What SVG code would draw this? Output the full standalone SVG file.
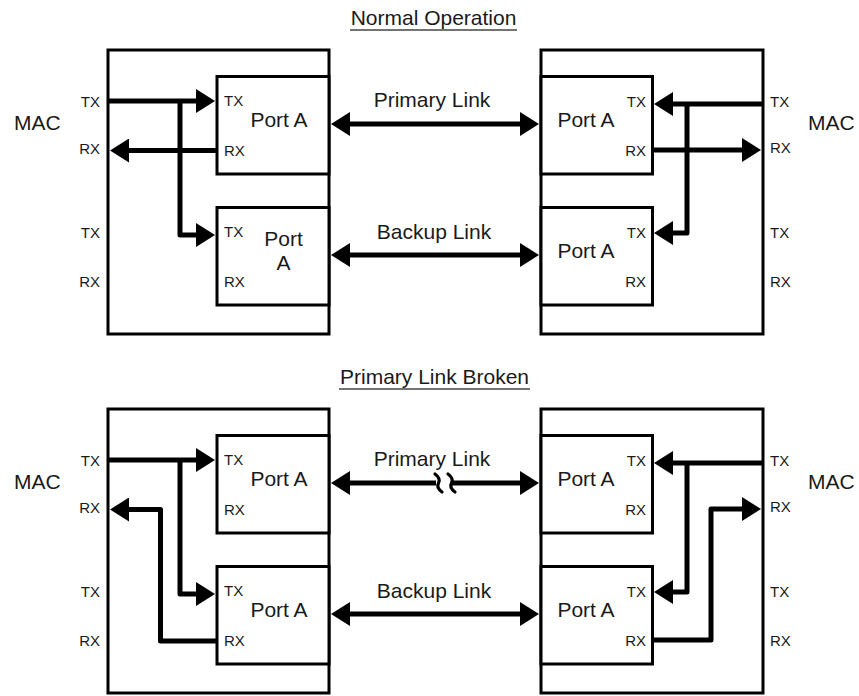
<svg xmlns="http://www.w3.org/2000/svg" width="859" height="696" viewBox="0 0 859 696">
<style>
  text { font-family: "Liberation Sans", Arial, sans-serif; fill: #1a1a1a; }
  .big { font-size: 21px; }
  .sm { font-size: 15px; }
  .mid { text-anchor: middle; }
  .end { text-anchor: end; }
  .box { fill: #fff; stroke: #000; stroke-width: 3; }
  .ul { stroke: #444; stroke-width: 1.6; }
  .wire { fill: none; stroke: #000; stroke-width: 5; stroke-linejoin: round; }
  .arr { marker-end: url(#ah); }
  .dbl { marker-start: url(#ah); marker-end: url(#ah); }
  .brk { fill: none; stroke: #000; stroke-width: 3.2; stroke-linecap: round; }
</style>
<defs>
  <marker id="ah" markerUnits="userSpaceOnUse" markerWidth="20" markerHeight="24" viewBox="0 0 20 24" refX="9" refY="12" orient="auto-start-reverse">
    <path d="M0,0 L19,12 L0,24 z" fill="#000"/>
  </marker>
</defs>
<rect width="859" height="696" fill="#fff"/>

<!-- Titles -->
<g id="title-normal">
  <text class="big mid" x="433.5" y="25">Normal Operation</text>
  <line class="ul" x1="350" y1="30" x2="517" y2="30"/>
</g>
<g id="title-broken">
  <text class="big mid" x="434.5" y="384">Primary Link Broken</text>
  <line class="ul" x1="339" y1="389" x2="530" y2="389"/>
</g>

<!-- ===== Normal Operation ===== -->
<g id="mac-left-1">
  <rect class="box" x="108" y="50" width="221" height="284"/>
  <text class="big" x="14" y="130">MAC</text>
  <text class="sm end" x="100" y="107">TX</text>
  <text class="sm end" x="100" y="154">RX</text>
  <text class="sm end" x="100" y="238">TX</text>
  <text class="sm end" x="100" y="287">RX</text>
</g>
<g id="port-left-1a">
  <rect class="box" x="217" y="76.5" width="112" height="97.5"/>
  <text class="sm" x="224" y="106">TX</text>
  <text class="sm" x="224" y="156">RX</text>
  <text class="big mid" x="279" y="127">Port A</text>
</g>
<g id="port-left-1b">
  <rect class="box" x="217" y="207.5" width="112" height="97.5"/>
  <text class="sm" x="224" y="237">TX</text>
  <text class="sm" x="224" y="287">RX</text>
  <text class="big mid" x="283.5" y="246">Port</text>
  <text class="big mid" x="283.5" y="270">A</text>
</g>
<g id="mac-right-1">
  <rect class="box" x="541" y="50" width="222" height="284"/>
  <text class="big" x="808" y="130">MAC</text>
  <text class="sm" x="770" y="107">TX</text>
  <text class="sm" x="770" y="153">RX</text>
  <text class="sm" x="770" y="238">TX</text>
  <text class="sm" x="770" y="287">RX</text>
</g>
<g id="port-right-1a">
  <rect class="box" x="541" y="76.5" width="111.5" height="97.5"/>
  <text class="sm end" x="646" y="107">TX</text>
  <text class="sm end" x="646" y="156">RX</text>
  <text class="big mid" x="586" y="127">Port A</text>
</g>
<g id="port-right-1b">
  <rect class="box" x="541" y="207.5" width="111.5" height="97.5"/>
  <text class="sm end" x="646" y="238">TX</text>
  <text class="sm end" x="646" y="287">RX</text>
  <text class="big mid" x="586" y="258">Port A</text>
</g>

<!-- ===== Primary Link Broken ===== -->
<g id="mac-left-2">
  <rect class="box" x="108" y="409" width="221" height="284"/>
  <text class="big" x="14" y="489">MAC</text>
  <text class="sm end" x="100" y="466">TX</text>
  <text class="sm end" x="100" y="513">RX</text>
  <text class="sm end" x="100" y="597">TX</text>
  <text class="sm end" x="100" y="646">RX</text>
</g>
<g id="port-left-2a">
  <rect class="box" x="217" y="435.5" width="112" height="97.5"/>
  <text class="sm" x="224" y="465">TX</text>
  <text class="sm" x="224" y="515">RX</text>
  <text class="big mid" x="279" y="486">Port A</text>
</g>
<g id="port-left-2b">
  <rect class="box" x="217" y="566.5" width="112" height="97.5"/>
  <text class="sm" x="224" y="596">TX</text>
  <text class="sm" x="224" y="646">RX</text>
  <text class="big mid" x="279" y="617">Port A</text>
</g>
<g id="mac-right-2">
  <rect class="box" x="541" y="409" width="222" height="284"/>
  <text class="big" x="808" y="489">MAC</text>
  <text class="sm" x="770" y="466">TX</text>
  <text class="sm" x="770" y="512">RX</text>
  <text class="sm" x="770" y="597">TX</text>
  <text class="sm" x="770" y="646">RX</text>
</g>
<g id="port-right-2a">
  <rect class="box" x="541" y="435.5" width="111.5" height="97.5"/>
  <text class="sm end" x="646" y="466">TX</text>
  <text class="sm end" x="646" y="515">RX</text>
  <text class="big mid" x="586" y="486">Port A</text>
</g>
<g id="port-right-2b">
  <rect class="box" x="541" y="566.5" width="111.5" height="97.5"/>
  <text class="sm end" x="646" y="597">TX</text>
  <text class="sm end" x="646" y="646">RX</text>
  <text class="big mid" x="586" y="617">Port A</text>
</g>

<!-- Link labels -->
<g id="link-labels">
  <text class="big mid" x="432" y="107">Primary Link</text>
  <text class="big mid" x="434" y="239">Backup Link</text>
  <text class="big mid" x="432" y="466">Primary Link</text>
  <text class="big mid" x="434" y="598">Backup Link</text>
</g>

<!-- Connectors -->
<g id="connectors">
  <!-- normal: left -->
  <path class="wire arr" d="M108,101 H205"/>
  <path class="wire arr" d="M180,101 V235 H205"/>
  <path class="wire arr" d="M217,150.5 H120"/>
  <!-- normal: right -->
  <path class="wire arr" d="M763,104 H664"/>
  <path class="wire arr" d="M687,104 V233 H664"/>
  <path class="wire arr" d="M652,150 H751"/>
  <!-- normal: links -->
  <path class="wire dbl" d="M341,124 H529"/>
  <path class="wire dbl" d="M341,255 H529"/>

  <!-- broken: left -->
  <path class="wire arr" d="M108,460 H205"/>
  <path class="wire arr" d="M180,460 V594 H205"/>
  <path class="wire arr" d="M217,641 H160.5 V509.5 H120"/>
  <!-- broken: right -->
  <path class="wire arr" d="M763,463 H664"/>
  <path class="wire arr" d="M687,463 V592 H664"/>
  <path class="wire arr" d="M652,640 H711 V509 H751"/>
  <!-- broken: links -->
  <path class="wire" d="M341,483 H436" style="marker-start:url(#ah)"/>
  <path class="brk" d="M435,474 Q441,478.5 438.5,483 Q436,487.5 442,492"/>
  <path class="brk" d="M448,474 Q454,478.5 451.5,483 Q449,487.5 455,492"/>
  <path class="wire arr" d="M452,483 H529"/>
  <path class="wire dbl" d="M341,614 H529"/>
</g>
</svg>
